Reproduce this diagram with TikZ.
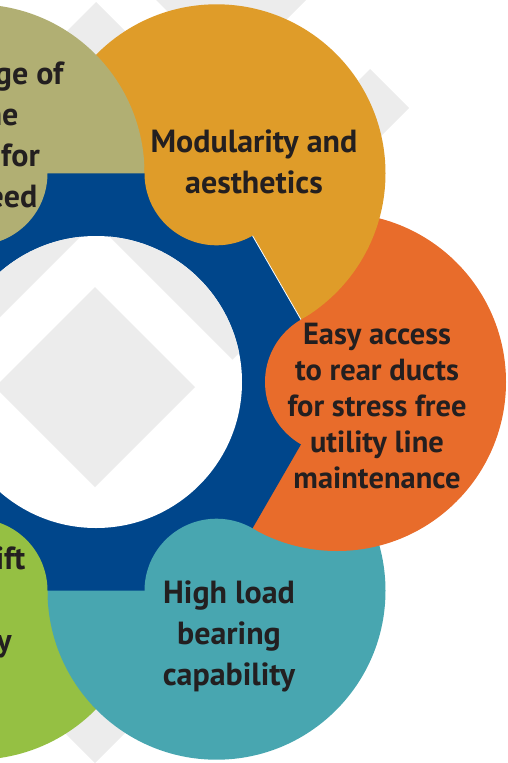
\documentclass[tikz,border=0pt]{standalone}
\usepackage{fontspec}
\setmainfont{PT Sans}
\usepackage{tikz}
\usetikzlibrary{positioning}
\definecolor{hexblue}{HTML}{00468B}
\definecolor{olivebub}{HTML}{B1AF73}
\definecolor{goldbub}{HTML}{DF9C29}
\definecolor{orangebub}{HTML}{E86C2B}
\definecolor{tealbub}{HTML}{48A6B0}
\definecolor{greenbub}{HTML}{95C043}
\definecolor{bggrey}{HTML}{ECECEC}
\definecolor{txtgrey}{HTML}{231F20}
\tikzset{bubbletext/.style={font=\bfseries\fontsize{32}{41}\selectfont,
    text=txtgrey,align=center,inner sep=0pt,anchor=base},
  smalltext/.style={bubbletext,font=\bfseries\fontsize{30.5}{36}\selectfont}}

\begin{document}
\begin{tikzpicture}[x=1pt,y=-1pt]
  \useasboundingbox (0,0) rectangle (507,763);

  \coordinate (hc) at (96,382);
  \coordinate (vr) at (337,382);
  \coordinate (vtr) at (216.5,173.3);
  \coordinate (vtl) at (-24.5,173.3);
  \coordinate (vl) at (-145,382);
  \coordinate (vbl) at (-24.5,590.7);
  \coordinate (vbr) at (216.5,590.7);

  % grey diamonds behind
  \fill [bggrey] (96,2) -- (134,40) -- (96,78) -- (58,40) -- cycle;
  \fill [bggrey] (370,69) -- (409,108) -- (370,147) -- (331,108) -- cycle;
  \fill [bggrey] (95,687) -- (133,725) -- (95,763) -- (57,725) -- cycle;
  \fill [bggrey] (231,-125) -- (331,-25) -- (231,75) -- (131,-25) -- cycle;

  % big circles
  \fill [greenbub] (vbl) circle (169);
  \fill [tealbub] (vbr) circle (169);
  \fill [orangebub] (vr) circle (169);
  \fill [goldbub] (vtr) circle (169);
  \fill [olivebub] (vtl) circle (169);

  % hexagon
  \fill [hexblue] (vr) -- (vtr) -- (vtl) -- (vl) -- (vbl) -- (vbr) -- cycle;
  \draw [white, line width=0.8] (vtr) -- (vr);
  \fill [white] (hc) circle (146);
  \begin{scope}
    \clip (hc) circle (146);
    \fill [bggrey] (95,287) -- (195,387) -- (95,487) -- (-5,387) -- cycle;
    \fill [bggrey] (95,157) -- (265,327) -- (232.5,359.5) -- (95,222)
      -- (-42.5,359.5) -- (-75,327) -- cycle;
  \end{scope}

  % small circles
  \fill [greenbub] (vbl) circle (72);
  \fill [tealbub] (vbr) circle (72);
  \fill [orangebub] (vr) circle (72);
  \fill [goldbub] (vtr) circle (72);
  \fill [olivebub] (vtl) circle (72);

  \node [bubbletext] (range) at (-32,207) {Wide range of\\volume\\helpful for\\each need};
  \node [bubbletext] (modular) at (254,193) {Modularity and\\aesthetics};
  \node [smalltext] (access) at (377,488) {Easy access\\to rear ducts\\for stress free\\utility line\\maintenance};
  \node [bubbletext] (load) at (229,685) {High load\\bearing\\capability};
  \node [bubbletext] (lift) at (-29,651) {Easy lift\\and\\safety};

\end{tikzpicture}
\end{document}
